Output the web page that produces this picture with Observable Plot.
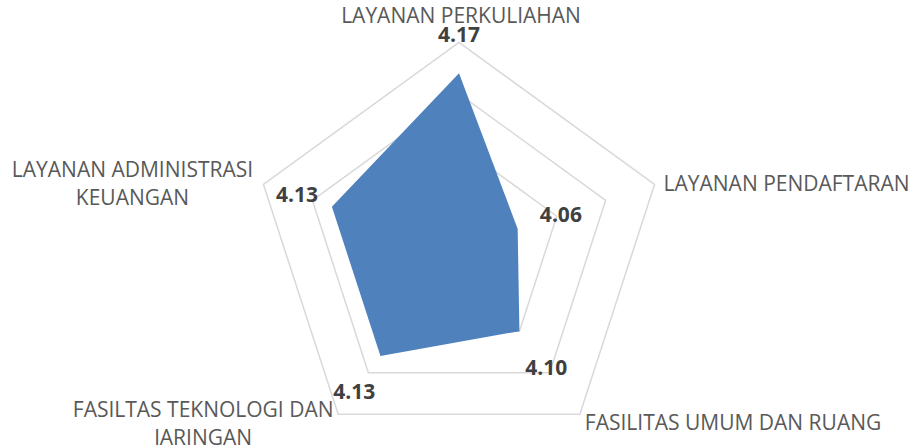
<!DOCTYPE html>
<html><head><meta charset="utf-8">
<script src="https://cdn.jsdelivr.net/npm/d3@7"></script>
<script src="https://cdn.jsdelivr.net/npm/@observablehq/plot@0.6"></script>
<style>body{margin:0;background:#fff;} #chart svg{display:block;}</style>
</head><body><div id="chart"></div>
<script>
const categories = ["LAYANAN PERKULIAHAN", "LAYANAN PENDAFTARAN", "FASILITAS UMUM DAN RUANG", "FASILTAS TEKNOLOGI DAN\nJARINGAN", "LAYANAN ADMINISTRASI\nKEUANGAN"];
const values = [4.17, 4.06, 4.10, 4.13, 4.13];
const valueLabels = ["4.17", "4.06", "4.10", "4.13", "4.13"];
const gridLevels = [4.05, 4.10, 4.15, 4.20];
const axisMin = 4.0, axisMax = 4.2;

// layout: pixel offsets of category labels from the outer vertex
const catLayout = [
  {anchor: "middle", dx: 2, dy: -28},
  {anchor: "start", dx: 9, dy: -2},
  {anchor: "start", dx: 5, dy: 7},
  {anchor: "middle", dx: -135, dy: 8},
  {anchor: "middle", dx: -131, dy: -2}
];
// layout: radial padding of value labels beyond their data point (in axis-radius units)
const valuePad = [0.184, 0.221, 0.221, 0.217, 0.179];

const n = categories.length;
const norm = v => (v - axisMin) / (axisMax - axisMin);
const pt = (i, r) => {
  const a = i * 2 * Math.PI / n;
  return {x: r * Math.sin(a), y: r * Math.cos(a)};
};

const gridPts = gridLevels.flatMap(lv => d3.range(n + 1).map(i => ({level: lv, ...pt(i % n, norm(lv))})));
const polyPts = d3.range(n + 1).map(i => pt(i % n, norm(values[i % n])));
const valPts = values.map((v, i) => ({label: valueLabels[i], ...pt(i, norm(v) + valuePad[i])}));
const catPts = categories.map((c, i) => ({name: c, ...pt(i, 1)}));

const W = 910, H = 445, cx = 458.5, cy = 247.5, R = 205.6;

const marks = [
  Plot.line(gridPts, {x: "x", y: "y", z: "level", stroke: "#d9d9d9", strokeWidth: 1.5}),
  Plot.line(polyPts, {x: "x", y: "y", fill: "#4f81bd", stroke: "none"}),
  Plot.text(valPts, {x: "x", y: "y", text: "label", fontFamily: "Open Sans", fontWeight: "bold", fontSize: 21, fill: "#404040", lineAnchor: "middle", textAnchor: "middle"})
];
catLayout.forEach((L, i) => {
  marks.push(Plot.text([catPts[i]], {x: "x", y: "y", text: "name", fontFamily: "Open Sans", fontSize: 21, fill: "#595959", lineAnchor: "middle", textAnchor: L.anchor, dx: L.dx, dy: L.dy, lineHeight: 1.33}));
});

const chart = Plot.plot({
  width: W, height: H,
  marginTop: 0, marginBottom: 0, marginLeft: 0, marginRight: 0,
  x: {domain: [-cx / R, (W - cx) / R], axis: null},
  y: {domain: [-(H - cy) / R, cy / R], axis: null},
  style: {background: "#fff", overflow: "visible"},
  marks
});
document.getElementById("chart").appendChild(chart);
</script>
</body></html>
